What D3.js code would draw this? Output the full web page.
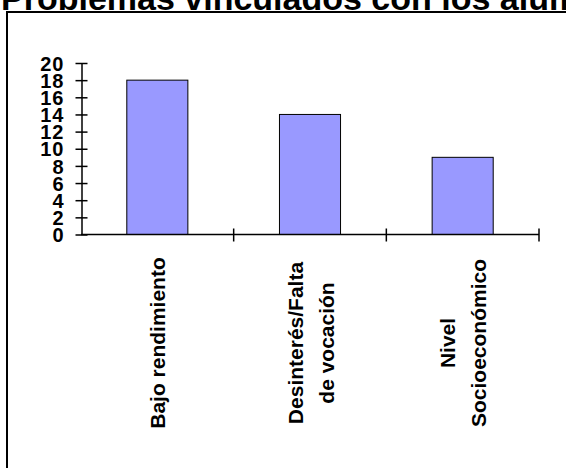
<html>
<head>
<meta charset='utf-8'>
<script src='https://d3js.org/d3.v7.min.js'></script>
<style>
  body {margin: 0; background: white;}
  text {font-family: Arial, 'Liberation Sans', sans-serif; font-weight: bold; fill: black;}
</style>
</head>
<body>
<svg width=566 height=468></svg>
<script>
// data
var categories = [['Bajo rendimiento'], ['Desinterés/Falta', 'de vocación'], ['Nivel', 'Socioeconómico']];
var values = [18, 14, 9];
var yTicks = [0, 2, 4, 6, 8, 10, 12, 14, 16, 18, 20];
var title = 'Problemas vinculados con los alumnos';

var svg = d3.select('svg');

// title, mostly cut off by the top of the picture
svg.append('text').attr('x', 1).attr('y', 10).text(title).style('font-size', '34px');

// outer frame of the chart area
svg.append('rect').attr('x', 7).attr('y', 12).attr('width', 620).attr('height', 520)
  .attr('fill', 'white').attr('stroke', 'black').attr('stroke-width', 2);

var x = d3.scaleBand().domain(d3.range(values.length)).range([81, 539]).paddingInner(0.6).paddingOuter(0.3);
var y = d3.scaleLinear().domain([0, 20]).range([234.5, 63]);

svg.append('g')
  .selectAll('rect')
  .data(values)
  .enter()
  .append('rect')
  .attr('x', (d, i) => x(i))
  .attr('y', d => y(d))
  .attr('width', x.bandwidth())
  .attr('height', d => y(0) - y(d))
  .attr('fill', '#9999ff')
  .attr('stroke', 'black')
  .attr('stroke-width', 1);

// y axis: ticks cross the line
var yAxis = d3.axisLeft(y).tickValues(yTicks).tickSizeInner(-6).tickSizeOuter(0).tickPadding(0).tickFormat(d3.format('d'));
var gy = svg.append('g').attr('transform', 'translate(81.5,0)').call(yAxis);
gy.select('.domain').attr('stroke', 'black').attr('stroke-width', 1.5);
gy.selectAll('.tick line').attr('x1', -6).attr('x2', 6).attr('stroke', 'black').attr('stroke-width', 1.5);
gy.selectAll('.tick text').attr('x', -17).attr('dy', '0.36em')
  .style('font-size', '20px').style('letter-spacing', '1px')
  .style('font-family', 'Arial, Liberation Sans, sans-serif');

// x axis: line at zero, ticks between categories
var xEdges = d3.range(1, values.length + 1).map(i => 81 + i * x.step());
svg.append('line').attr('x1', 81).attr('x2', 539).attr('y1', y(0)).attr('y2', y(0))
  .attr('stroke', 'black').attr('stroke-width', 1.5);
svg.append('g').selectAll('line').data(xEdges).enter().append('line')
  .attr('x1', d => d).attr('x2', d => d).attr('y1', y(0) - 6).attr('y2', y(0) + 7)
  .attr('stroke', 'black').attr('stroke-width', 1.5);

// rotated category labels
var lineGap = 31;
categories.forEach(function(lines, i) {
  var cx = x(i) + x.bandwidth() / 2 + 1;
  var first = cx - (lines.length - 1) * lineGap / 2 + 7;
  lines.forEach(function(t, j) {
    svg.append('text')
      .attr('transform', 'translate(' + (first + j * lineGap) + ',343) rotate(-90)')
      .attr('text-anchor', 'middle')
      .style('font-size', '21px')
      .text(t);
  });
});
</script>
</body>
</html>
